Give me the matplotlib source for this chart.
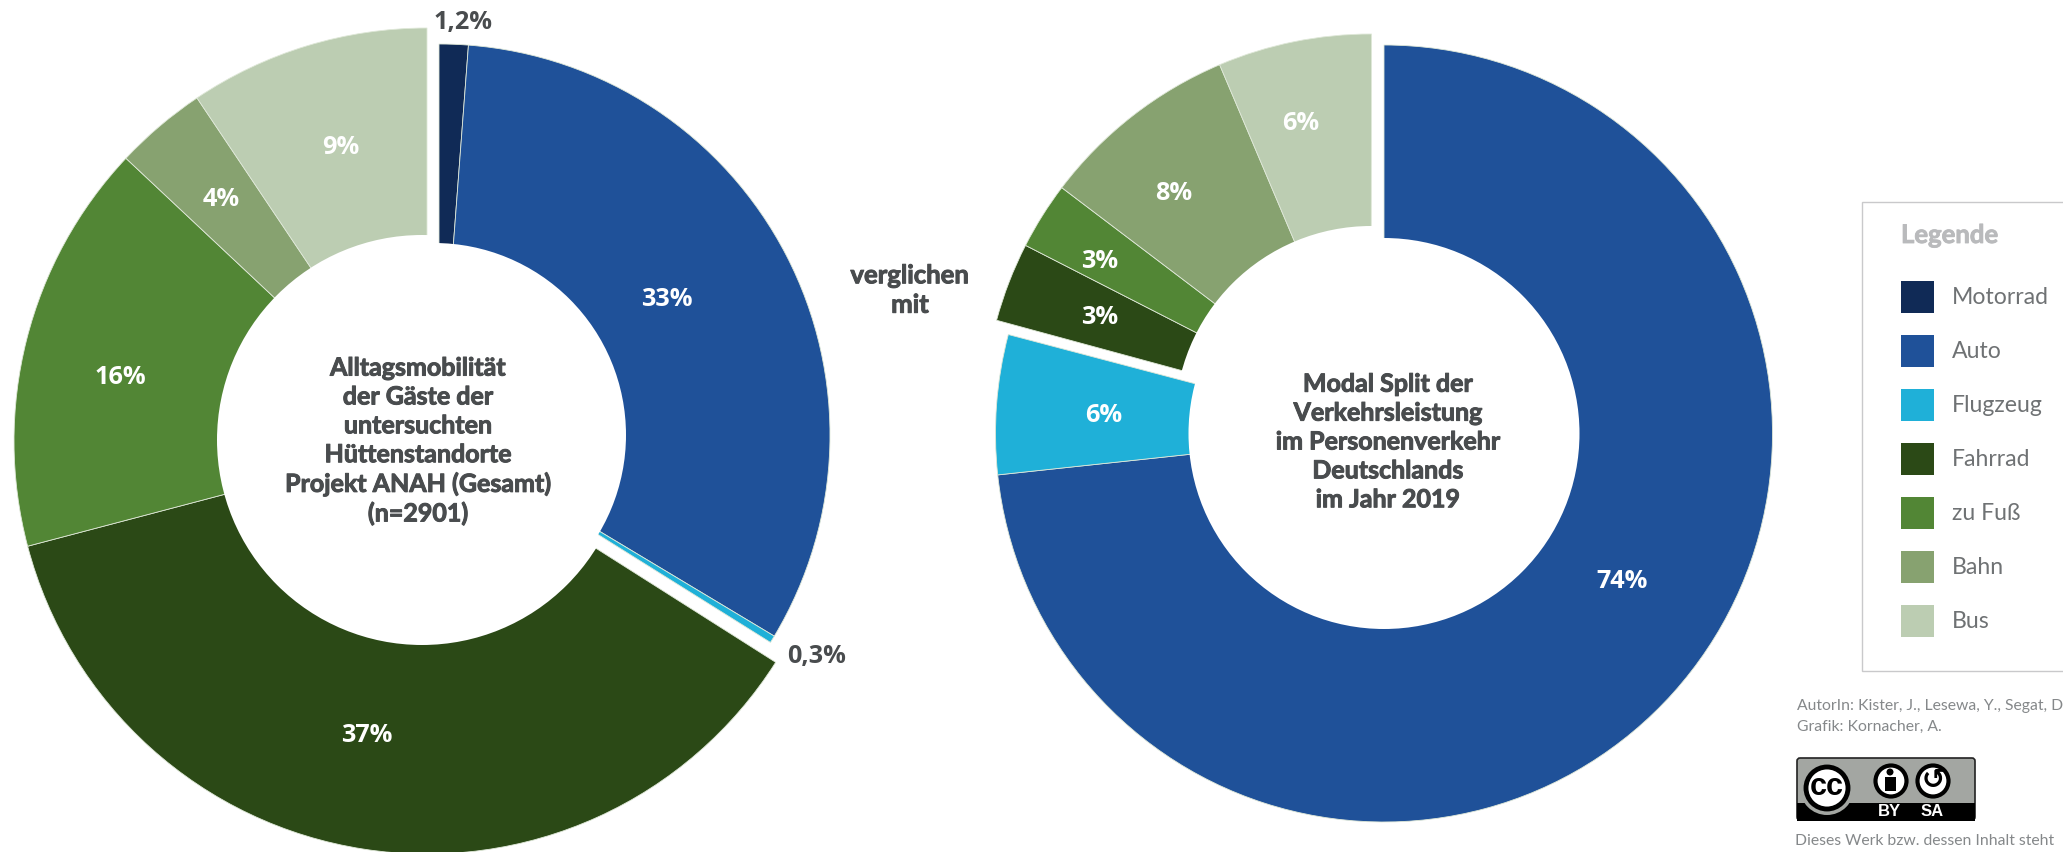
import numpy as np
from matplotlib import pyplot as plt
from matplotlib import patheffects as pe
from matplotlib.patches import Rectangle, FancyBboxPatch, Circle

W, H = 2063, 852

categories = ['Motorrad', 'Auto', 'Flugzeug', 'Fahrrad', 'zu Fuß', 'Bahn', 'Bus']
colors = ['#102a56', '#1f5199', '#1fb0d8', '#2b4916', '#528635', '#87a270', '#bccdb2']

# shares, the printed labels are rounded
anah_values = [1.2, 32.4, 0.3, 36.9, 16.1, 3.6, 9.4]
anah_labels = ['1,2%', '33%', '0,3%', '37%', '16%', '4%', '9%']
split_values = [0, 73.3, 5.8, 3.3, 2.8, 8.3, 6.4]
split_labels = ['', '74%', '6%', '3%', '3%', '8%', '6%']

anah_title = 'Alltagsmobilität\nder Gäste der\nuntersuchten\nHüttenstandorte\nProjekt ANAH (Gesamt)\n(n=2901)'
split_title = 'Modal Split der\nVerkehrsleistung\nim Personenverkehr\nDeutschlands\nim Jahr 2019'

# where the percent labels sit, in picture pixels
anah_pos = [(463, 23), (667, 299), (817, 657), (367, 736), (120, 377), (221, 199), (341, 147)]
split_pos = [None, (1622, 582), (1104, 416), (1100, 318), (1100, 262), (1174, 193), (1301, 124)]

TEXT = '#494c4e'
SOFT = '#6f7274'
FONT = 'Lato'
NUM_FONT = 'Open Sans'

fig = plt.figure(figsize=(W / 100, H / 100), dpi=100)
ax = fig.add_axes([0, 0, 1, 1])


def flip(y):
    return H - y


def heavy(x, y, s, size=18, color=TEXT, spacing=1.31):
    """ Lato black is not heavy enough here, so thicken it a bit """
    t = ax.text(x, flip(y), s, color=color, fontsize=size, fontweight='bold', family=FONT,
                ha='center', va='center', linespacing=spacing, zorder=10)
    t.set_path_effects([pe.withStroke(linewidth=0.7, foreground=color)])
    return t


def ring(values, idx, start, center, radius, hole_center, hole_r, z):
    """ one part of a donut, drawn clockwise from start (degrees from the top) """
    vals = [values[i] / 100 for i in idx]
    cols = [colors[i] for i in idx]
    wedges, _ = ax.pie(vals, colors=cols, normalize=False, startangle=90 - start,
                       counterclock=False, radius=radius, center=(center[0], flip(center[1])),
                       wedgeprops=dict(linewidth=0.6, edgecolor='#dfe8d8'), frame=False)
    for w in wedges:
        w.set_zorder(z)
    # the hole goes on top of this part only
    ax.add_patch(Circle((hole_center[0], flip(hole_center[1])), hole_r, facecolor='white',
                        edgecolor='none', zorder=z + 0.5))


def pct_labels(labels, positions):
    for s, pos in zip(labels, positions):
        if pos is None:
            continue
        col = TEXT if s in ('1,2%', '0,3%') else 'white'
        ax.text(pos[0], flip(pos[1]), s, color=col, fontsize=18.2, fontweight='bold',
                family=NUM_FONT, ha='center', va='center', zorder=10)


# left donut, the green part is pulled away from the blue part
ring(anah_values, [3, 4, 5, 6], 122.4, (427, 441), 413, (422, 440), 205, 1)
ring(anah_values, [0, 1, 2], 0, (439, 435), 391, (434, 435), 192, 2)
pct_labels(anah_labels, anah_pos)

# right donut
ring(split_values, [3, 4, 5, 6], 285.2, (1371, 422), 388, (1371, 422), 196, 1)
ring(split_values, [1, 2], 0, (1384, 433.5), 388.5, (1384, 433.5), 195.5, 2)
pct_labels(split_labels, split_pos)

heavy(418, 441, anah_title)
heavy(1388, 442, split_title)
heavy(910, 290, 'verglichen\nmit', size=18.5, spacing=1.27)

# legend
ax.add_patch(Rectangle((1862, flip(671)), 260, 469, facecolor='white', edgecolor='#c9c9cb', linewidth=1))
t = ax.text(1901, flip(235), 'Legende', color='#b9babc', fontsize=18.5, fontweight='bold', family=FONT, va='center')
t.set_path_effects([pe.withStroke(linewidth=0.6, foreground='#b9babc')])
for n, (name, col) in enumerate(zip(categories, colors)):
    y = 297 + n * 54
    ax.add_patch(Rectangle((1901, flip(y + 16)), 33, 32, facecolor=col, edgecolor='none'))
    ax.text(1952, flip(y + 1), name, color=SOFT, fontsize=16.6, family=FONT, va='center')

# credits
ax.text(1797, flip(706), 'AutorIn: Kister, J., Lesewa, Y., Segat, D', color='#85888a', fontsize=11.3,
        family=FONT, va='center')
ax.text(1797, flip(727), 'Grafik: Kornacher, A.', color='#85888a', fontsize=11.3, family=FONT, va='center')
ax.text(1795, flip(841), 'Dieses Werk bzw. dessen Inhalt steht', color='#85888a', fontsize=11.3,
        family=FONT, va='center')

# cc badge
ax.add_patch(FancyBboxPatch((1797, flip(820)), 178, 62, boxstyle='round,pad=0,rounding_size=3',
                            facecolor='#a3a6a2', edgecolor='#222222', linewidth=1.2))
ax.add_patch(Rectangle((1797, flip(821)), 178, 18, facecolor='black', edgecolor='none'))
ax.add_patch(Circle((1827, flip(788)), 27, facecolor='#a3a6a2', edgecolor='none'))
ax.add_patch(Circle((1827, flip(788)), 21, facecolor='white', edgecolor='black', linewidth=3.5))
ax.text(1827, flip(787), 'cc', color='black', fontsize=22, fontweight='bold', family='Liberation Sans',
        ha='center', va='center')
for cx in (1891, 1933):
    ax.add_patch(Circle((cx, flip(781)), 15.5, facecolor='white', edgecolor='black', linewidth=3))
ax.add_patch(Circle((1890, flip(772)), 3.5, facecolor='black', edgecolor='none'))
ax.add_patch(Rectangle((1885, flip(791)), 11, 14, facecolor='black', edgecolor='none'))
ax.text(1933, flip(780), '\u21ba', color='black', fontsize=20, fontweight='bold', family='DejaVu Sans',
        ha='center', va='center')
ax.text(1889, flip(812), 'BY', color='white', fontsize=12, fontweight='bold', family='Liberation Sans',
        ha='center', va='center')
ax.text(1932, flip(812), 'SA', color='white', fontsize=12, fontweight='bold', family='Liberation Sans',
        ha='center', va='center')

ax.set_xlim(0, W)
ax.set_ylim(0, H)
ax.set_aspect('auto')
ax.axis('off')

fig.savefig('out.png', dpi=100)
